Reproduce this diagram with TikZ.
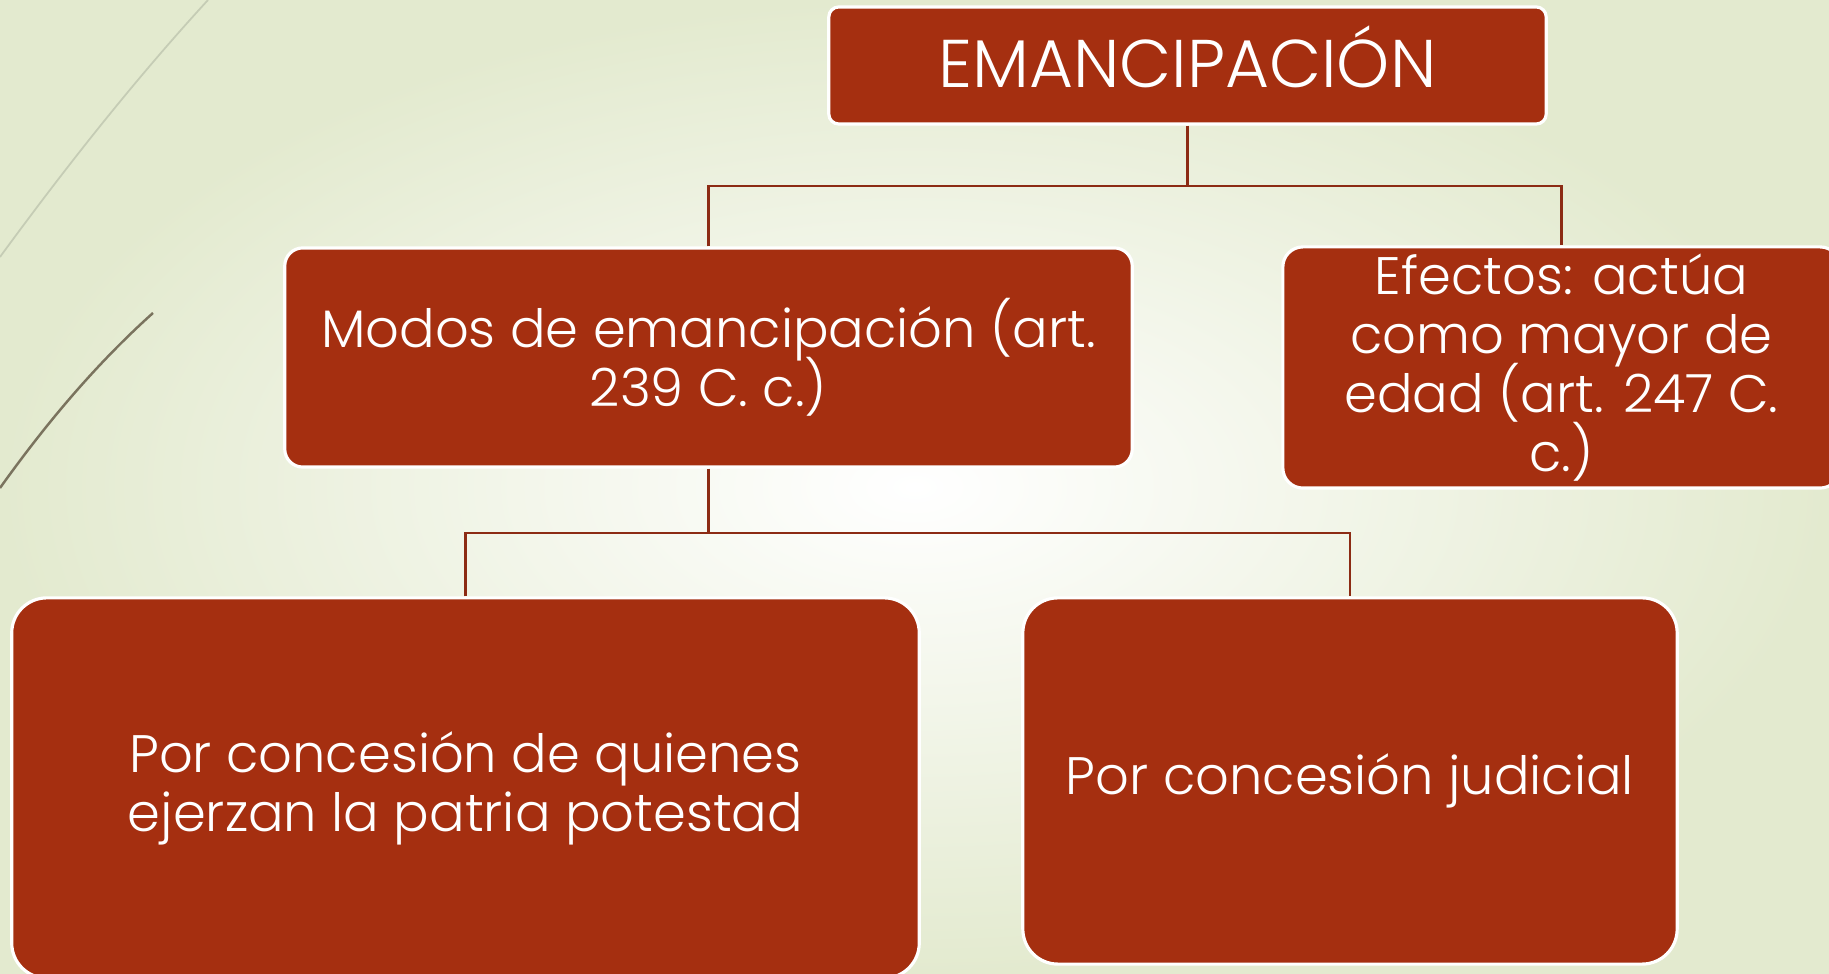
\documentclass[tikz,border=0pt]{standalone}
\usepackage{fontspec}
\setmainfont{Poppins}[UprightFont=* Light]
\definecolor{boxred}{HTML}{A52F10}
\definecolor{linered}{HTML}{8C2B14}
\definecolor{bggreen}{HTML}{E3EACF}
\definecolor{decoA}{HTML}{C5CCB5}
\definecolor{decoB}{HTML}{7A735E}
\newcommand\myboxfont{\fontsize{15}{16.8}\selectfont\lineskiplimit=-100pt\relax}
\begin{document}
\begin{tikzpicture}[x=0.01cm,y=-0.01cm,
  box/.style={rectangle, fill=boxred, draw=white, line width=0.9pt, text=white,
    align=center, inner sep=0pt, font=\myboxfont},
  conn/.style={draw=linered, line width=0.75pt}]
\useasboundingbox (0,0) rectangle (1829,974);
\clip (0,0) rectangle (1829,974);
\shade[inner color=white, outer color=bggreen] (0,0) rectangle (1829,974);
\draw[color=decoA, line width=0.5pt] (0,257) .. controls (60,175) and (130,85) .. (208,0);
\draw[color=decoB, line width=0.7pt] (0,488) .. controls (45,425) and (95,365) .. (153,313);

\node[box, rounded corners=1mm, minimum width=71.7mm, minimum height=11.7mm,
  text height=4.5mm, text depth=0pt,
  font=\fontsize{19.2}{20}\selectfont] (top) at (1187.5,65.5) {EMANCIPACIÓN};
\node[box, rounded corners=1.8mm, minimum width=84.7mm, minimum height=21.9mm]
  (modos) at (708.5,357.5) {Modos de emancipación (art.\\ 239 C. c.)};
\node[box, rounded corners=2mm, minimum width=55.7mm, minimum height=24.1mm]
  (efe) at (1561.5,367.5) {\rule{0pt}{0.6mm}Efectos: actúa\\ como mayor de\\ edad (art. 247 C.\\ c.)};
\node[box, rounded corners=3.5mm, minimum width=90.7mm, minimum height=38mm]
  (izq) at (465.5,788) {\rule{0pt}{0.6mm}Por concesión de quienes\\ ejerzan la patria potestad};
\node[box, rounded corners=3.5mm, minimum width=65.4mm, minimum height=36.6mm]
  (der) at (1350,781) {Por concesión judicial};

\coordinate (bus1) at (0,186);
\coordinate (bus2) at (0,533);
\draw[conn] (top.south) -- (top.south |- bus1);
\draw[conn] (modos.north) -- (modos.north |- bus1) -- (efe.north |- bus1) -- (efe.north);
\draw[conn] (modos.south) -- (modos.south |- bus2);
\draw[conn] (izq.north) -- (izq.north |- bus2) -- (der.north |- bus2) -- (der.north);
\end{tikzpicture}
\end{document}
